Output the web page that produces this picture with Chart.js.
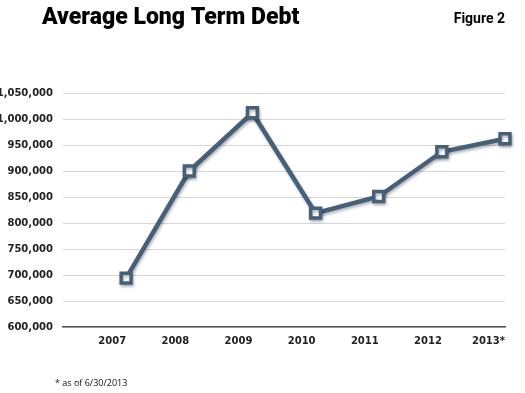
<!DOCTYPE html>
<html>
<head>
<meta charset="utf-8">
<script src="https://cdn.jsdelivr.net/npm/chart.js@4"></script>
<style>
  html, body { margin: 0; padding: 0; background: #fff; }
  #wrap { position: relative; width: 525px; height: 393px; }
</style>
</head>
<body>
<div id="wrap"><canvas id="debtChart"></canvas></div>
<script>
// chart data
const years = [2007, 2008, 2009, 2010, 2011, 2012, 2013];
const yearLabels = ['2007', '2008', '2009', '2010', '2011', '2012', '2013*'];
const avgDebt = [694000, 900000, 1012000, 819000, 851000, 937000, 962000];

const titleText = 'Average Long Term Debt';
const figureText = 'Figure 2';
const footnoteText = '* as of 6/30/2013';

const lineColor = '#46607a';

// title, figure label and footnote drawn on the canvas
const textPlugin = {
  id: 'pageText',
  afterDraw(chart) {
    const ctx = chart.ctx;
    ctx.save();
    ctx.fillStyle = '#000';
    ctx.textBaseline = 'alphabetic';
    ctx.textAlign = 'left';
    ctx.font = '900 23px Roboto, "DejaVu Sans", sans-serif';
    ctx.fillText(titleText, 42, 24);
    ctx.textAlign = 'right';
    ctx.font = 'bold 14px Roboto, "DejaVu Sans", sans-serif';
    ctx.fillText(figureText, 505, 23);
    ctx.textAlign = 'left';
    ctx.fillStyle = '#111';
    ctx.font = '9px "Open Sans", "DejaVu Sans", sans-serif';
    ctx.fillText(footnoteText, 55, 386);
    ctx.restore();
  }
};

// soft shadow under the line and markers
const shadowPlugin = {
  id: 'lineShadow',
  beforeDatasetsDraw(chart) {
    const ctx = chart.ctx;
    ctx.save();
    ctx.shadowColor = 'rgba(0, 0, 0, 0.3)';
    ctx.shadowBlur = 3;
    ctx.shadowOffsetX = 1;
    ctx.shadowOffsetY = 2;
  },
  afterDatasetsDraw(chart) {
    chart.ctx.restore();
  }
};

const ctx = document.getElementById('debtChart').getContext('2d');
new Chart(ctx, {
  type: 'line',
  data: {
    datasets: [{
      label: 'Average Long Term Debt',
      data: years.map((y, i) => ({ x: y, y: avgDebt[i] })),
      borderColor: lineColor,
      borderWidth: 4.5,
      tension: 0,
      clip: false,
      pointStyle: 'rect',
      pointRadius: 7,
      pointBorderWidth: 3.5,
      pointBorderColor: lineColor,
      pointBackgroundColor: '#fff'
    }]
  },
  options: {
    responsive: true,
    maintainAspectRatio: false,
    animation: false,
    layout: {
      padding: { top: 93, right: 20, bottom: 36, left: 0 }
    },
    plugins: {
      legend: { display: false },
      tooltip: { enabled: false }
    },
    scales: {
      x: {
        type: 'linear',
        min: 2006,
        max: 2013,
        afterFit: scale => { scale.height = 30; },
        afterBuildTicks: scale => {
          scale.ticks = years.map(v => ({ value: v }));
        },
        grid: { display: false, drawTicks: false },
        border: { display: true, color: '#555', width: 1.5 },
        ticks: {
          align: 'end',
          padding: 8,
          color: '#222',
          font: { family: '"DejaVu Sans"', size: 10, weight: 'bold' },
          callback: value => yearLabels[years.indexOf(value)] || ''
        }
      },
      y: {
        min: 600000,
        max: 1050000,
        afterFit: scale => { scale.width = 63; },
        grid: { color: '#d6d6d6', lineWidth: 1, drawTicks: false },
        border: { display: false },
        ticks: {
          stepSize: 50000,
          padding: 10,
          color: '#222',
          font: { family: '"DejaVu Sans"', size: 10, weight: 'bold' },
          callback: value => value.toLocaleString('en-US')
        }
      }
    }
  },
  plugins: [shadowPlugin, textPlugin]
});
</script>
</body>
</html>
